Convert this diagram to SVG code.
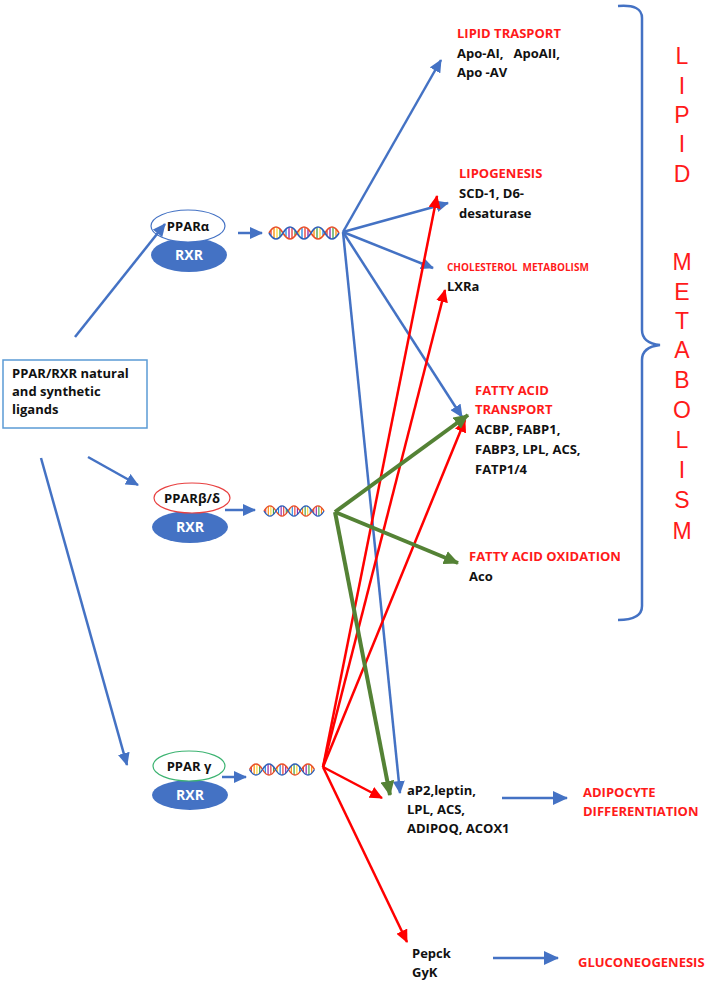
<svg xmlns="http://www.w3.org/2000/svg" width="714" height="984" viewBox="0 0 714 984">
<style>
.b{font-family:"Open Sans","Liberation Sans",Arial,sans-serif;font-weight:bold;font-size:13px;fill:#111;white-space:pre}
.r{font-family:"Open Sans","Liberation Sans",Arial,sans-serif;font-weight:bold;font-size:13px;fill:#ff1a1a}
.big{font-family:"Liberation Sans",Arial,sans-serif;font-size:23px;fill:#ff1a1a;text-anchor:middle}
.bl{stroke:#4472c4;stroke-width:2.5;fill:none}
.gr{stroke:#548235;stroke-width:4;fill:none}
.rd{stroke:#ff0000;stroke-width:2.5;fill:none}
.rx{fill:#4472c4}
.rxt{font-family:"Open Sans","Liberation Sans",Arial,sans-serif;font-weight:bold;font-size:14px;fill:#fff;text-anchor:middle}
.pt{font-family:"Open Sans","Liberation Sans",Arial,sans-serif;font-weight:bold;font-size:13px;fill:#111;text-anchor:middle}
</style>
<defs>
<marker id="mb" markerUnits="userSpaceOnUse" markerWidth="14" markerHeight="12" refX="12" refY="6" orient="auto"><path d="M0,0 L13,6 L0,12 z" fill="#4472c4"/></marker>
<marker id="mbb" markerUnits="userSpaceOnUse" markerWidth="16" markerHeight="14" refX="14" refY="7" orient="auto"><path d="M0,0 L15,7 L0,14 z" fill="#4472c4"/></marker>
<marker id="mg" markerUnits="userSpaceOnUse" markerWidth="16" markerHeight="14" refX="14" refY="7" orient="auto"><path d="M0,0 L15,7 L0,14 z" fill="#548235"/></marker>
<marker id="mr" markerUnits="userSpaceOnUse" markerWidth="14" markerHeight="12" refX="12" refY="6" orient="auto"><path d="M0,0 L13,6 L0,12 z" fill="#ff0000"/></marker>
<symbol id="dna" viewBox="0 0 70 14" overflow="visible">
<g stroke-width="1.3">
<line x1="2" y1="4.4" x2="2" y2="9.6" stroke="#e53935"/>
<line x1="5" y1="1.6" x2="5" y2="12.4" stroke="#fb8c00"/>
<line x1="8" y1="1.2" x2="8" y2="12.8" stroke="#fdd835"/>
<line x1="11" y1="3.3" x2="11" y2="10.7" stroke="#43a047"/>
<line x1="17" y1="3.3" x2="17" y2="10.7" stroke="#1e88e5"/>
<line x1="20" y1="1.2" x2="20" y2="12.8" stroke="#8e24aa"/>
<line x1="23" y1="1.6" x2="23" y2="12.4" stroke="#e53935"/>
<line x1="26" y1="4.4" x2="26" y2="9.6" stroke="#43a047"/>
<line x1="30" y1="4.4" x2="30" y2="9.6" stroke="#fdd835"/>
<line x1="33" y1="1.6" x2="33" y2="12.4" stroke="#1e88e5"/>
<line x1="36" y1="1.2" x2="36" y2="12.8" stroke="#e53935"/>
<line x1="39" y1="3.3" x2="39" y2="10.7" stroke="#8e24aa"/>
<line x1="45" y1="3.3" x2="45" y2="10.7" stroke="#fb8c00"/>
<line x1="48" y1="1.2" x2="48" y2="12.8" stroke="#43a047"/>
<line x1="51" y1="1.6" x2="51" y2="12.4" stroke="#fdd835"/>
<line x1="54" y1="4.4" x2="54" y2="9.6" stroke="#1e88e5"/>
<line x1="58" y1="4.4" x2="58" y2="9.6" stroke="#e53935"/>
<line x1="61" y1="1.6" x2="61" y2="12.4" stroke="#8e24aa"/>
<line x1="64" y1="1.2" x2="64" y2="12.8" stroke="#43a047"/>
<line x1="67" y1="3.3" x2="67" y2="10.7" stroke="#fb8c00"/>
</g>
<path d="M0,7 Q7,-5 14,7 T28,7 T42,7 T56,7 T70,7" fill="none" stroke="#e8502a" stroke-width="1.6"/>
<path d="M0,7 Q7,19 14,7 T28,7 T42,7 T56,7 T70,7" fill="none" stroke="#2f5fb8" stroke-width="1.6"/>
</symbol>
</defs>
<rect width="714" height="984" fill="#fff"/>

<g id="ligands">
<rect x="3" y="360" width="144" height="68" fill="#fff" stroke="#5b9bd5" stroke-width="1.5"/>
<text class="b" x="12" y="378">PPAR/RXR natural</text>
<text class="b" x="12" y="396">and synthetic</text>
<text class="b" x="12" y="414">ligands</text>
</g>

<g id="ppara">
<ellipse cx="189" cy="255" rx="38" ry="17" class="rx"/>
<ellipse cx="188" cy="226" rx="37" ry="16" fill="#fff" stroke="#4472c4" stroke-width="1.2"/>
<text class="pt" x="188" y="231">PPARα</text>
<text class="rxt" x="189" y="260">RXR</text>
<use href="#dna" x="266" y="226" width="76" height="14"/>
</g>
<g id="pparbd">
<ellipse cx="190" cy="527" rx="38" ry="16" class="rx"/>
<ellipse cx="192" cy="498" rx="38" ry="15" fill="#fff" stroke="#e84040" stroke-width="1.2"/>
<text class="pt" x="192" y="503">PPARβ/δ</text>
<text class="rxt" x="190" y="532">RXR</text>
<use href="#dna" x="262" y="505" width="64" height="12"/>
</g>
<g id="pparg">
<ellipse cx="190" cy="795" rx="38" ry="15" class="rx"/>
<ellipse cx="189" cy="766" rx="36" ry="15" fill="#fff" stroke="#3cb371" stroke-width="1.2"/>
<text class="pt" x="189" y="771">PPAR γ</text>
<text class="rxt" x="190" y="800">RXR</text>
<use href="#dna" x="248" y="763" width="68" height="13"/>
</g>

<g id="labels">
<text class="r" x="457" y="38">LIPID TRASPORT</text>
<text class="b" x="457" y="58" xml:space="preserve">Apo-AI,   ApoAII,</text>
<text class="b" x="457" y="77">Apo -AV</text>
<text class="r" x="459" y="178">LIPOGENESIS</text>
<text class="b" x="459" y="198">SCD-1, D6-</text>
<text class="b" x="459" y="218">desaturase</text>
<text class="r" x="447" y="271" style="font-size:10px" xml:space="preserve">CHOLESTEROL  METABOLISM</text>
<text class="b" x="447" y="291">LXRa</text>
<text class="r" x="475" y="395">FATTY ACID</text>
<text class="r" x="475" y="414">TRANSPORT</text>
<text class="b" x="475" y="434">ACBP, FABP1,</text>
<text class="b" x="475" y="454">FABP3, LPL, ACS,</text>
<text class="b" x="475" y="474">FATP1/4</text>
<text class="r" x="469" y="561">FATTY ACID OXIDATION</text>
<text class="b" x="469" y="581">Aco</text>
<text class="b" x="407" y="795">aP2,leptin,</text>
<text class="b" x="407" y="814">LPL, ACS,</text>
<text class="b" x="407" y="833">ADIPOQ, ACOX1</text>
<text class="r" x="583" y="797">ADIPOCYTE</text>
<text class="r" x="583" y="816">DIFFERENTIATION</text>
<text class="b" x="412" y="958">Pepck</text>
<text class="b" x="412" y="977">GyK</text>
<text class="r" x="578" y="967">GLUCONEOGENESIS</text>
</g>

<g id="lipid-metabolism">
<path d="M618,6 Q642,4 642,18 L642,330 Q642,343 660,345 Q642,347 642,360 L642,606 Q642,620 618,620" fill="none" stroke="#4472c4" stroke-width="2.5"/>
<text class="big" x="682" y="64">L</text>
<text class="big" x="682" y="94">I</text>
<text class="big" x="682" y="123">P</text>
<text class="big" x="682" y="152">I</text>
<text class="big" x="682" y="182">D</text>
<text class="big" x="682" y="270">M</text>
<text class="big" x="682" y="300">E</text>
<text class="big" x="682" y="329">T</text>
<text class="big" x="682" y="358">A</text>
<text class="big" x="682" y="388">B</text>
<text class="big" x="682" y="418">O</text>
<text class="big" x="682" y="448">L</text>
<text class="big" x="682" y="478">I</text>
<text class="big" x="682" y="508">S</text>
<text class="big" x="682" y="539">M</text>
</g>

<g id="connectors">
<line class="bl" x1="75" y1="337" x2="165" y2="224" marker-end="url(#mb)"/>
<line class="bl" x1="88" y1="457" x2="138" y2="485" marker-end="url(#mb)"/>
<line class="bl" x1="41" y1="458" x2="127" y2="765" marker-end="url(#mb)"/>
<line class="bl" x1="238" y1="233" x2="262" y2="233" marker-end="url(#mb)"/>
<line class="bl" x1="225" y1="510" x2="255" y2="510" marker-end="url(#mb)"/>
<line class="bl" x1="222" y1="777" x2="246" y2="777" stroke-width="4" marker-end="url(#mb)"/>

<line class="bl" x1="343" y1="232" x2="441" y2="60" marker-end="url(#mb)"/>
<line class="bl" x1="343" y1="232" x2="448" y2="203" marker-end="url(#mb)"/>
<line class="bl" x1="343" y1="232" x2="433" y2="268" marker-end="url(#mb)"/>
<line class="bl" x1="343" y1="232" x2="462" y2="417" marker-end="url(#mb)"/>
<line class="bl" x1="343" y1="232" x2="400" y2="793" marker-end="url(#mb)"/>

<line class="rd" x1="323" y1="767" x2="437" y2="196" marker-end="url(#mr)"/>
<line class="rd" x1="323" y1="767" x2="445" y2="290" marker-end="url(#mr)"/>
<line class="rd" x1="323" y1="767" x2="465" y2="420" marker-end="url(#mr)"/>
<line class="rd" x1="323" y1="767" x2="382" y2="798" marker-end="url(#mr)"/>
<line class="rd" x1="323" y1="767" x2="407" y2="942" marker-end="url(#mr)"/>

<line class="gr" x1="335" y1="512" x2="468" y2="415" marker-end="url(#mg)"/>
<line class="gr" x1="335" y1="512" x2="458" y2="563" marker-end="url(#mg)"/>
<line class="gr" x1="335" y1="512" x2="390" y2="795" marker-end="url(#mg)"/>

<line class="bl" x1="502" y1="798" x2="567" y2="798" stroke-width="4" marker-end="url(#mbb)"/>
<line class="bl" x1="493" y1="958" x2="558" y2="958" stroke-width="4" marker-end="url(#mbb)"/>
</g>
</svg>
